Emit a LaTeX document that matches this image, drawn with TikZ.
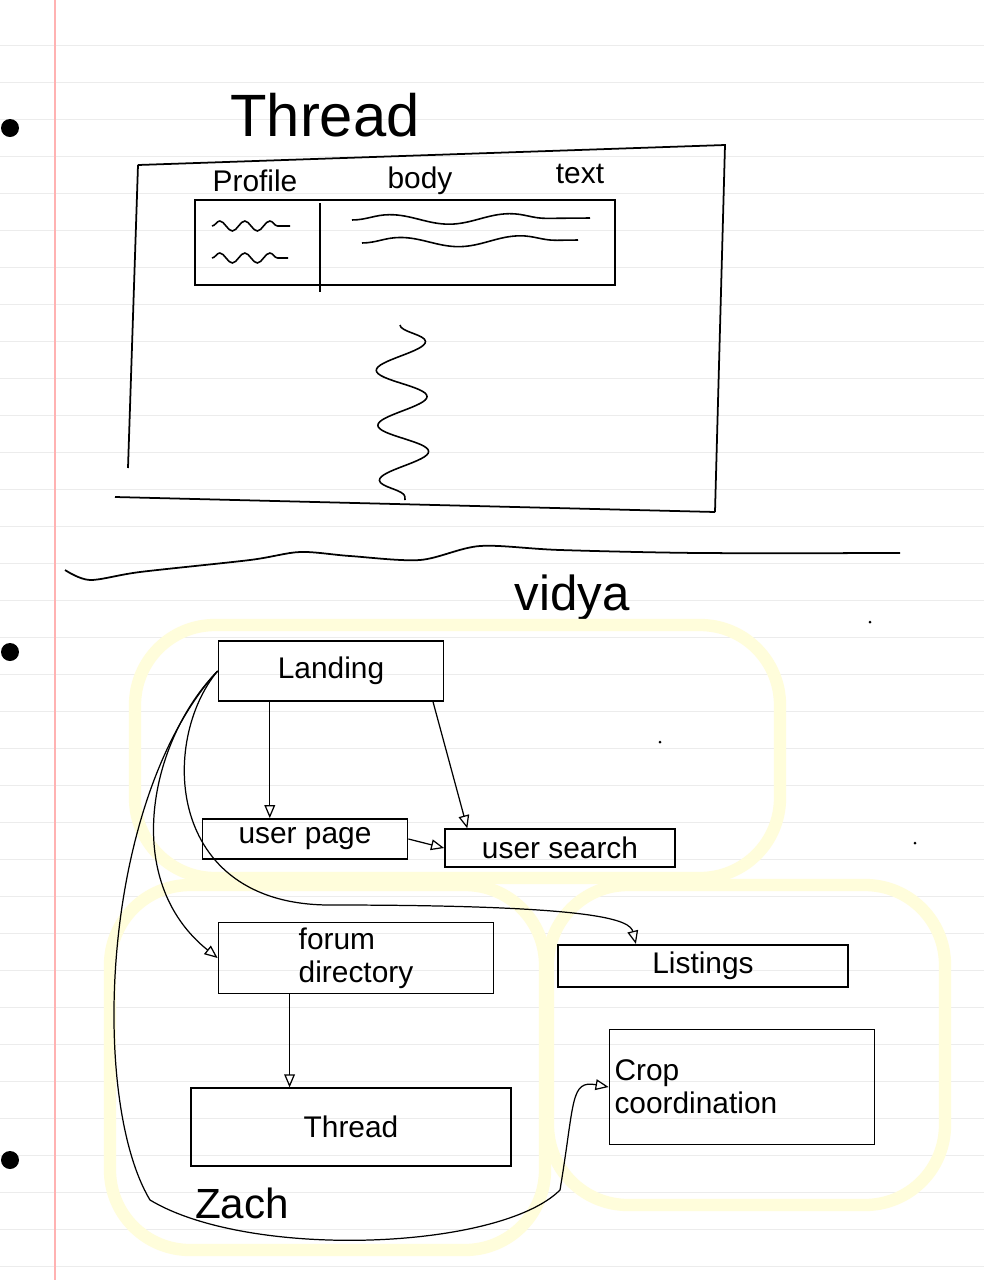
\documentclass[tikz,border=0pt]{standalone}
\usepackage{fontspec}
\setmainfont{Liberation Sans}
\usetikzlibrary{arrows,calc,decorations.pathmorphing}

\begin{document}
\begin{tikzpicture}[x=0.2mm,y=-0.2mm,
  pagebox/.style={draw,line width=1pt,inner sep=1mm,font=\fontsize{17}{19}\selectfont},
  link/.style={-open triangle 45,line width=0.7pt},
  scribble/.style={line width=0.9pt,decorate,decoration={snake,amplitude=1mm,segment length=#1}},
  marker/.style={yellow!14,line width=7pt,rounded corners=16mm},
  hand/.style={font=\fontsize{17}{19}\selectfont}]

\useasboundingbox[fill=white] (0,0) rectangle (984,1280);
% ruled paper
\foreach \y in {45,82,...,1270} \draw[gray!15,line width=0.4pt] (0,\y) -- (984,\y);
\draw[red!30,line width=0.8pt] (55,0) -- (55,1280);
\foreach \y in {128,652,1160} \fill (10,\y) circle (9);

% thread page sketch
\node[font=\fontsize{34}{36}\selectfont] (title) at (325,115) {Thread};
\draw[line width=1pt] (138,165) -- (725,145) -- (715,512);
\draw[line width=1pt] (138,165) -- (128,468);
\draw[line width=1pt] (115,497) -- (715,512);
\draw[line width=1pt] (195,200) rectangle (615,285);
\draw[line width=1pt] (320,203) -- (320,292);
\node[hand] (profile) at (255,181) {Profile};
\node[hand] (body) at (420,181) {body};
\node[hand] (text) at (580,174) {text};
\draw[scribble=5mm] (212,226) -- (290,226);
\draw[scribble=5mm] (212,258) -- (288,258);
\draw[scribble=24mm] (352,220) -- (590,218);
\draw[scribble=24mm] (362,243) -- (578,240);
\draw[line width=0.9pt,decorate,decoration={snake,amplitude=5mm,segment length=11mm}] (400,325) -- (405,500);

% separator
\draw[line width=1pt] plot[smooth] coordinates {(65,570) (90,580) (140,572) (250,560) (300,552) (350,556) (420,560) (480,546) (560,550) (700,553) (900,553)};

% site map
\node[font=\fontsize{28}{30}\selectfont] (owner1) at (572,598) {vidya};
\draw[marker] (135,625) rectangle (780,878);
\draw[marker] (110,885) rectangle (545,1250);
\draw[marker] (548,885) rectangle (945,1205);
\foreach \p in {(870,622),(660,742),(915,843)} \fill \p circle (1.5);

\node[pagebox,minimum width=45mm,minimum height=12mm] (landing) at (331,671) {Landing};
\node[pagebox,minimum width=41mm,minimum height=8mm] (userpage) at (305,839) {user page};
\node[pagebox,minimum width=46mm,minimum height=7.5mm] (usersearch) at (560,848) {user search};
\node[pagebox,minimum width=55mm,minimum height=12mm,align=left] (forum) at (356,958) {forum\\directory};
\node[pagebox,minimum width=58mm,minimum height=8.5mm] (listings) at (703,966) {Listings};
\node[pagebox,minimum width=64mm,minimum height=15.5mm] (thread) at (351,1127) {Thread};
\node[pagebox,text width=51mm,minimum height=23mm,align=left] (crop) at (742,1087) {Crop\\coordination};
\node[font=\fontsize{24}{26}\selectfont] (owner2) at (242,1203) {Zach};

\draw[link] ($(landing.south west)!0.23!(landing.south east)$) coordinate (a) -- (a |- userpage.north);
\draw[link] ($(landing.south west)!0.95!(landing.south east)$) -- ($(usersearch.north west)!0.1!(usersearch.north east)$);
\draw[link] (userpage.east) -- (usersearch.west);
\draw[link] ($(forum.south west)!0.26!(forum.south east)$) coordinate (b) -- (b |- thread.north);
\draw[link] (landing.west) .. controls (150,740) and (120,880) .. (forum.west);
\draw[link] (landing.west) .. controls (160,740) and (165,905) .. (330,905) .. controls (600,905) and (630,920) .. ($(listings.north west)!0.27!(listings.north east)$);
\draw[link] (landing.west) .. controls (100,800) and (90,1100) .. (150,1200) .. controls (250,1260) and (500,1250) .. (560,1190) .. controls (575,1100) and (570,1080) .. (crop.west);
\end{tikzpicture}
\end{document}
